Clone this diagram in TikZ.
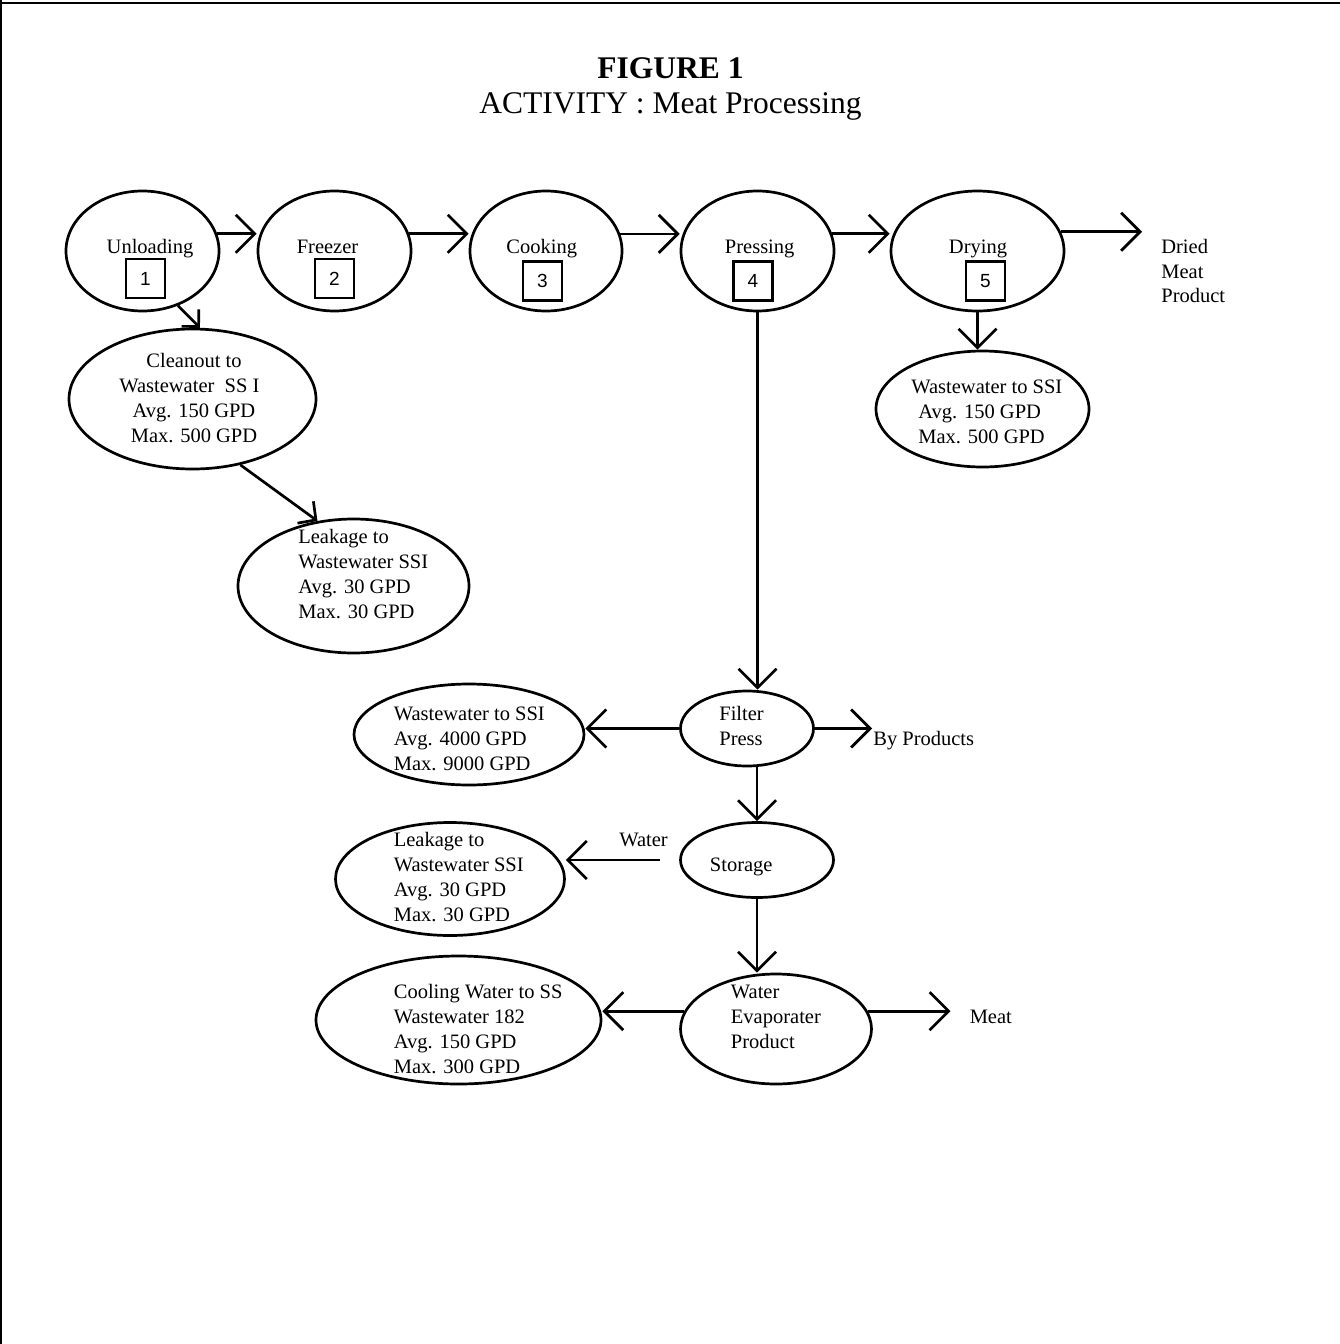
\documentclass[tikz,border=0pt]{standalone}
\usepackage{fontspec}
\setmainfont{Liberation Serif}
\newfontfamily\numfont{Liberation Sans}
\usetikzlibrary{shapes.geometric,arrows.meta}
\begin{document}
\begin{tikzpicture}[x=1pt,y=-1pt, line width=2.7pt,
  ell/.style={draw, ellipse, inner sep=0pt},
  numbox/.style={draw, line width=2.2pt, minimum size=39pt, inner sep=0pt, font=\numfont\fontsize{19}{19}\selectfont},
  lbl/.style={inner sep=0pt, font=\fontsize{20.5}{25}\selectfont},
  ttl/.style={inner sep=0pt, font=\fontsize{31.5}{36}\selectfont},
  arr/.style={-{Straight Barb[length=19pt,width=38pt]}},
  sarr/.style={-{Straight Barb[length=12pt,width=24pt]}},
  marr/.style={-{Straight Barb[length=13pt,width=27pt]}}]
\useasboundingbox (0,0) rectangle (1340,1344);
% frame
\draw[line width=2pt] (0,3) -- (1340,3);
\draw[line width=2pt] (1,0) -- (1,1344);
% title
\node[ttl, anchor=base, font=\fontsize{31.5}{36}\selectfont\bfseries] (title1) at (670.5,78) {FIGURE 1};
\node[ttl, anchor=base] (title2) at (670.5,113) {ACTIVITY : Meat Processing};
% ellipses
\node[ell, minimum width=153pt, minimum height=120pt] (unload) at (142.5,251) {};
\node[ell, minimum width=153pt, minimum height=120pt] (freezer) at (334.5,251) {};
\node[ell, minimum width=152pt, minimum height=120pt] (cook) at (546,251) {};
\node[ell, minimum width=153pt, minimum height=120pt] (press) at (757.5,251) {};
\node[ell, minimum width=173pt, minimum height=120pt] (dry) at (977.5,251) {};
\node[ell, minimum width=247pt, minimum height=140pt] (clean) at (192.5,399) {};
\node[ell, minimum width=231pt, minimum height=134pt] (leak1) at (353.5,586) {};
\node[ell, minimum width=213pt, minimum height=116pt] (ww1) at (982.5,409) {};
\node[ell, minimum width=230pt, minimum height=101pt] (ww2) at (469,734.5) {};
\node[ell, minimum width=133pt, minimum height=75pt] (filt) at (747,728.5) {};
\node[ell, minimum width=153pt, minimum height=75pt] (stor) at (757,860) {};
\node[ell, minimum width=229pt, minimum height=113pt] (leak2) at (450,879) {};
\node[ell, minimum width=191pt, minimum height=110pt] (we) at (776,1029) {};
\node[ell, minimum width=285pt, minimum height=128pt] (cool) at (458.5,1020) {};
% number boxes
\node[numbox] (n1) at (145.5,278.5) {1};
\node[numbox] (n2) at (334.5,278.5) {2};
\node[numbox] (n3) at (542.5,281) {3};
\node[numbox] (n4) at (753,281) {4};
\node[numbox] (n5) at (985.5,281) {5};
% top labels
\node[lbl, anchor=base] (tunl) at (150,253) {Unloading};
\node[lbl, anchor=base] (tfrz) at (327.5,253) {Freezer};
\node[lbl, anchor=base] (tcook) at (541.7,253) {Cooking};
\node[lbl, anchor=base] (tpress) at (759.7,253) {Pressing};
\node[lbl, anchor=base] (tdry) at (978,253) {Drying};
% dried meat product
\node[lbl, anchor=base west] (dp1) at (1160,253) {Dried};
\node[lbl, anchor=base west] (dp2) at (1160,278) {Meat};
\node[lbl, anchor=base west] (dp3) at (1160,302) {Product};
% cleanout text
\node[lbl, anchor=base] (cl1) at (194,367) {Cleanout to};
\node[lbl, anchor=base west] (cl2) at (118,392) {Wastewater\ \ SS I};
\node[lbl, anchor=base] (cl3) at (194,417) {Avg. 150 GPD};
\node[lbl, anchor=base] (cl4) at (194,442) {Max. 500 GPD};
% leakage 1 text
\node[lbl, anchor=base west] (la1) at (297,543) {Leakage to};
\node[lbl, anchor=base west] (la2) at (297,568) {Wastewater SSI};
\node[lbl, anchor=base west] (la3) at (297,593) {Avg. 30 GPD};
\node[lbl, anchor=base west] (la4) at (297,618) {Max. 30 GPD};
% ww1 text
\node[lbl, anchor=base west] (wa1) at (910,393) {Wastewater to SSI};
\node[lbl, anchor=base west] (wa2) at (917,418) {Avg. 150 GPD};
\node[lbl, anchor=base west] (wa3) at (917,443) {Max. 500 GPD};
% ww2 text
\node[lbl, anchor=base west] (wb1) at (392.5,720) {Wastewater to SSI};
\node[lbl, anchor=base west] (wb2) at (392.5,745) {Avg. 4000 GPD};
\node[lbl, anchor=base west] (wb3) at (392.5,770) {Max. 9000 GPD};
% filter press
\node[lbl, anchor=base west] (fp1) at (718,720.7) {Filter};
\node[lbl, anchor=base west] (fp2) at (718,745.7) {Press};
\node[lbl, anchor=base west] (byp) at (872,745) {By Products};
% storage
\node[lbl, anchor=base west] (st1) at (708.6,871.7) {Storage};
\node[lbl, anchor=base west] (wat) at (618,846.7) {Water};
% leakage 2 text
\node[lbl, anchor=base west] (lb1) at (392.5,846.7) {Leakage to};
\node[lbl, anchor=base west] (lb2) at (392.5,871.7) {Wastewater SSI};
\node[lbl, anchor=base west] (lb3) at (392.5,896.7) {Avg. 30 GPD};
\node[lbl, anchor=base west] (lb4) at (392.5,921.7) {Max. 30 GPD};
% water evaporater
\node[lbl, anchor=base west] (we1) at (729.6,998.3) {Water};
\node[lbl, anchor=base west] (we2) at (729.6,1023.3) {Evaporater};
\node[lbl, anchor=base west] (we3) at (729.6,1048.3) {Product};
\node[lbl, anchor=base west] (meat) at (968.4,1023.3) {Meat};
% cooling
\node[lbl, anchor=base west] (co1) at (392.5,998.3) {Cooling Water to SS};
\node[lbl, anchor=base west] (co2) at (392.5,1023.3) {Wastewater 182};
\node[lbl, anchor=base west] (co3) at (392.5,1048.3) {Avg. 150 GPD};
\node[lbl, anchor=base west] (co4) at (392.5,1073.3) {Max. 300 GPD};
% free ends
\coordinate (drytip) at (1142,234);
\coordinate (bptip) at (872,728.5);
\coordinate (meattip) at (950.5,1011.7);
% connectors
\draw[arr] (unload.13) -- (unload.13 -| freezer.west);
\draw[arr] (freezer.13) -- (freezer.13 -| cook.west);
\draw[arr] (cook.13) -- (cook.13 -| press.west);
\draw[arr] (press.13) -- (press.13 -| dry.west);
\draw[arr] (dry.13) -- (dry.13 -| drytip);
\draw[sarr] (unload.-57) -- (clean.84);
\draw[marr] (clean.-54) -- (leak1.119);
\draw[arr] (dry.south) -- (dry.south |- ww1.north);
\draw[arr] (press.south) -- (press.south |- filt.north);
\draw[arr] (filt.west) -- (filt.west -| ww2.east);
\draw[arr] (filt.east) -- (bptip);
\draw[arr] (filt.south -| stor.north) -- (stor.north);
\draw[arr, shorten <=19pt] (stor.west) -- (stor.west -| leak2.east);
\draw[arr] (stor.south) -- (stor.south |- we.north);
\draw[arr] (we.169) -- (we.169 -| cool.east);
\draw[arr] (we.11) -- (we.11 -| meattip);
\end{tikzpicture}
\end{document}
